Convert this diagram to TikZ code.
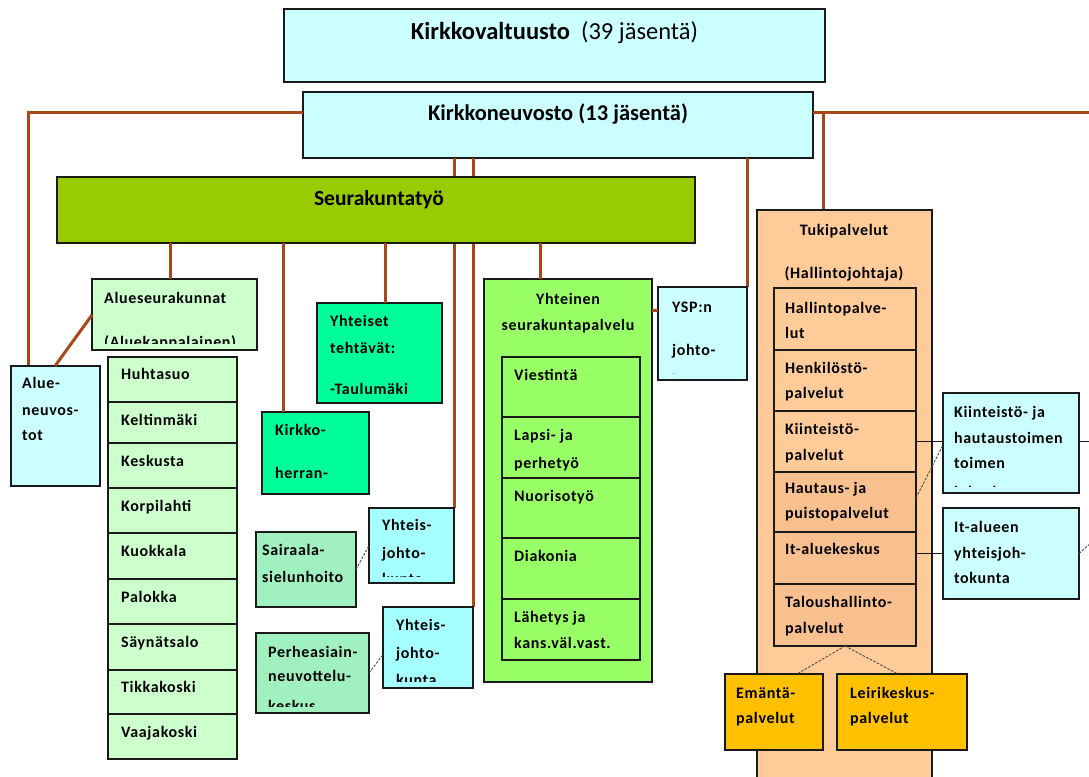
\documentclass[tikz,border=0pt]{standalone}
\usepackage{fontspec}
\setmainfont{Carlito}
\newfontfamily\lblf[LetterSpace=4]{Carlito}
\usetikzlibrary{calc}
\definecolor{cyanl}{HTML}{CCFFFF}
\definecolor{cyanm}{HTML}{A6FFFF}
\definecolor{olivg}{HTML}{99CC00}
\definecolor{lgreen}{HTML}{CCFFCC}
\definecolor{spring}{HTML}{00FF99}
\definecolor{mint}{HTML}{A0F0C0}
\definecolor{limeg}{HTML}{99FF66}
\definecolor{peach}{HTML}{FFCC99}
\definecolor{peachd}{HTML}{F8C08E}
\definecolor{amber}{HTML}{FFC000}
\definecolor{brn}{HTML}{A8481A}
\definecolor{boxline}{HTML}{1A1A1A}
\newcommand\bx[6]{\node[box,fill=#6,minimum width={#4-#2},minimum height={#5-#3}] (#1) at (#2,#3) {};}
\newcommand\tx[4]{\node[lbl] (#1) at (#2,#3) {#4};}
\newcommand\clipin[1]{\clip ([xshift=1pt,yshift=-1pt]#1.north west) rectangle ([xshift=-1pt,yshift=7pt]#1.south east);}
\begin{document}
\begin{tikzpicture}[x=1pt,y=-1pt,
  box/.style={draw=boxline,line width=1.3pt,anchor=north west,inner sep=0pt,outer sep=0pt},
  lbl/.style={anchor=base west,inner sep=0pt,font=\lblf\fontsize{16}{19}\selectfont\bfseries},
  ctr/.style={lbl,anchor=base},
  brline/.style={draw=brn,line width=3pt},
  thinline/.style={draw=boxline,line width=0.9pt},
  dsh/.style={draw=boxline!80,line width=0.9pt,dash pattern=on 2.5pt off 1.5pt}]
\clip (0,0) rectangle (1089,776);
\fill[white] (0,0) rectangle (1089,776);
% ---------- coordinates of the top level ----------
\coordinate (hL) at (28,112);
\coordinate (hR) at (1089,112);
% ---------- boxes ----------
\bx{kv}{284}{9}{825}{82}{cyanl}
\bx{kn}{303}{92}{813}{158}{cyanl}
\bx{ysp}{658}{287}{747}{380}{cyanl}
\bx{yj1}{369}{508}{454}{583}{cyanm}
\bx{yj2}{383}{607}{473}{688}{cyanm}
\bx{tp}{757}{210}{932}{800}{peach}
\coordinate (tpin) at ($(tp.north west)+(66,0)$);
% brown connectors from the top (behind the boxes below)
\draw[brline] (hL -| kn.west) -- (hL) -- (28,366);
\draw[brline] (hR -| kn.east) -- (hR);
\draw[brline] (tpin |- hR) -- (tpin);
\draw[brline] (yj1.north east |- kn.south) -- (yj1.north east);
\draw[brline] (yj2.north east |- kn.south) -- (yj2.north east);
\draw[brline] (ysp.north east |- kn.south) -- (ysp.north east);
% redraw the boxes the lines end at
\bx{ysp}{658}{287}{747}{380}{cyanl}
\bx{yj1}{369}{508}{454}{583}{cyanm}
\bx{yj2}{383}{607}{473}{688}{cyanm}
\bx{tp}{757}{210}{932}{800}{peach}
\bx{ss}{57}{177}{695}{243}{olivg}
\bx{an}{11}{366}{100}{486}{cyanl}
\bx{as}{92}{279}{257}{350}{lgreen}
\bx{yt}{317}{303}{442}{403}{spring}
\bx{kh}{262}{412}{369}{494}{spring}
\bx{sa}{256}{532}{356}{607}{mint}
\bx{pe}{256}{633}{369}{713}{mint}
\bx{yp}{484}{279}{652}{682}{limeg}
\coordinate (asin) at ($(as.north west)+(78,0)$);
\coordinate (khin) at ($(kh.north west)+(21,0)$);
\coordinate (ytin) at ($(yt.north west)+(68,0)$);
\coordinate (ypin) at ($(yp.north west)+(56,0)$);
\draw[brline] (asin |- ss.south) -- (asin);
\draw[brline] (khin |- ss.south) -- (khin);
\draw[brline] (ytin |- ss.south) -- (ytin);
\draw[brline] (ypin |- ss.south) -- (ypin);
\draw[brline] ($(yp.north east)+(0,31)$) -- ($(ysp.north west)+(0,23)$);
\draw[brline] ($(as.north west)+(0,36)$) -- ($(an.north west)+(44,0)$);
% parish list
\bx{p1}{108}{357}{237}{402}{lgreen}
\bx{p2}{108}{402}{237}{443}{lgreen}
\bx{p3}{108}{443}{237}{488}{lgreen}
\bx{p4}{108}{488}{237}{533}{lgreen}
\bx{p5}{108}{533}{237}{579}{lgreen}
\bx{p6}{108}{579}{237}{624}{lgreen}
\bx{p7}{108}{624}{237}{670}{lgreen}
\bx{p8}{108}{670}{237}{714}{lgreen}
\bx{p9}{108}{714}{237}{759}{lgreen}
% Yhteinen seurakuntapalvelu rows
\bx{y1}{502}{357}{640}{417}{limeg}
\bx{y2}{502}{417}{640}{478}{limeg}
\bx{y3}{502}{478}{640}{538}{limeg}
\bx{y4}{502}{538}{640}{599}{limeg}
\bx{y5}{502}{599}{640}{660}{limeg}
% Tukipalvelut rows
\bx{t1}{774}{288}{916}{350}{peach}
\bx{t2}{774}{350}{916}{411}{peach}
\bx{t3}{774}{411}{916}{472}{peach}
\bx{t4}{774}{472}{916}{532}{peachd}
\bx{t5}{774}{532}{916}{584}{peachd}
\bx{t6}{774}{584}{916}{646}{peachd}
\bx{kj}{943}{393}{1079}{493}{cyanl}
\bx{it}{943}{508}{1079}{599}{cyanl}
\bx{em}{725}{674}{823}{750}{amber}
\bx{le}{837}{674}{967}{750}{amber}
% thin connectors
\draw[thinline] (t3.east) -- (kj.west |- t3.east);
\draw[thinline] (kj.east |- t3.east) -- ++(12,0);
\draw[thinline] (it.west) -- (it.west -| t5.east);
\draw[dsh] ($(t4.north east)+(0,26)$) -- ($(kj.north west)+(0,52)$);
\coordinate (itx) at (1092,542);
\draw[dsh] (it.east) -- (itx);
\draw[dsh] (t6.south) -- ($(em.north west)+(72,0)$);
\draw[dsh] (t6.south) -- ($(le.north west)+(61,0)$);
\draw[dsh] (sa.east) -- (yj1.west);
\draw[dsh] (pe.east) -- ($(yj2.west)+(0,7)$);
% ---------- texts ----------
\node[anchor=base,inner sep=0pt,font=\fontsize{24.5}{28}\selectfont] (kvt) at (kv.center |- 0,40)
  {\textbf{Kirkkovaltuusto}\ \ (39 jäsentä)};
\node[anchor=base,inner sep=0pt,font=\fontsize{22.5}{26}\selectfont\bfseries] (knt) at (kn.center |- 0,120)
  {Kirkkoneuvosto (13 jäsentä)};
\node[anchor=base,inner sep=0pt,font=\fontsize{21.5}{25}\selectfont\bfseries] (sst) at (379,205) {Seurakuntatyö};
\begin{scope}\clipin{as}
\tx{as1}{104}{303}{Alueseurakunnat}
\tx{as2}{104}{347}{(Aluekappalainen)}
\end{scope}
\tx{an1}{22}{388}{Alue-}
\tx{an2}{22}{415}{neuvos-}
\tx{an3}{22}{440}{tot}
\tx{pt1}{121}{379}{Huhtasuo}
\tx{pt2}{121}{425}{Keltinmäki}
\tx{pt3}{121}{466}{Keskusta}
\tx{pt4}{121}{511}{Korpilahti}
\tx{pt5}{121}{556}{Kuokkala}
\tx{pt6}{121}{602}{Palokka}
\tx{pt7}{121}{647}{Säynätsalo}
\tx{pt8}{121}{692}{Tikkakoski}
\tx{pt9}{121}{737}{Vaajakoski}
\tx{yt1}{330}{326}{Yhteiset}
\tx{yt2}{330}{353}{tehtävät:}
\tx{yt3}{330}{394}{-Taulumäki}
\tx{kh1}{275}{435}{Kirkko-}
\tx{kh2}{275}{478}{herran-}
\tx{sa1}{262}{555}{Sairaala-}
\tx{sa2}{262}{582}{sielunhoito}
\begin{scope}\clipin{yj1}
\tx{yja1}{382}{530}{Yhteis-}
\tx{yja2}{382}{558}{johto-}
\tx{yja3}{382}{584}{kunta}
\end{scope}
\begin{scope}\clipin{pe}
\tx{pe1}{268}{657}{Perheasiain-}
\tx{pe2}{268}{681}{neuvottelu-}
\tx{pe3}{268}{711}{keskus}
\end{scope}
\begin{scope}\clipin{yj2}
\tx{yjb1}{396}{630}{Yhteis-}
\tx{yjb2}{396}{658}{johto-}
\tx{yjb3}{396}{685}{kunta}
\end{scope}
\node[ctr] (ypt1) at (568,304) {Yhteinen};
\node[ctr] (ypt2) at (568,330) {seurakuntapalvelu};
\tx{yr1}{514}{380}{Viestintä}
\tx{yr2}{514}{440}{Lapsi- ja}
\tx{yr2b}{514}{468}{perhetyö}
\tx{yr3}{514}{501}{Nuorisotyö}
\tx{yr4}{514}{561}{Diakonia}
\tx{yr5}{514}{622}{Lähetys ja}
\tx{yr5b}{514}{648}{kans.väl.vast.}
\begin{scope}\clipin{ysp}
\tx{ys1}{672}{312}{YSP:n}
\tx{ys2}{672}{355}{johto-}
\tx{ys3}{672}{385}{kunta}
\end{scope}
\node[ctr] (tpt1) at (844,235) {Tukipalvelut};
\node[ctr] (tpt2) at (844,278) {(Hallintojohtaja)};
\tx{tr1}{785}{313}{Hallintopalve-}
\tx{tr1b}{785}{338}{lut}
\tx{tr2}{785}{373}{Henkilöstö-}
\tx{tr2b}{785}{398}{palvelut}
\tx{tr3}{785}{434}{Kiinteistö-}
\tx{tr3b}{785}{460}{palvelut}
\tx{tr4}{785}{493}{Hautaus- ja}
\tx{tr4b}{785}{518}{puistopalvelut}
\tx{tr5}{785}{554}{It-aluekeskus}
\tx{tr6}{785}{607}{Taloushallinto-}
\tx{tr6b}{785}{633}{palvelut}
\begin{scope}\clipin{kj}
\tx{kj1}{954}{417}{Kiinteistö- ja}
\tx{kj2}{954}{443}{hautaustoimen}
\tx{kj3}{954}{468}{toimen}
\tx{kj4}{954}{497}{johtokunta}
\end{scope}
\tx{it1}{954}{532}{It-alueen}
\tx{it2}{954}{558}{yhteisjoh-}
\tx{it3}{954}{583}{tokunta}
\tx{em1}{736}{698}{Emäntä-}
\tx{em2}{736}{723}{palvelut}
\tx{le1}{850}{698}{Leirikeskus-}
\tx{le2}{850}{723}{palvelut}
\end{tikzpicture}
\end{document}
